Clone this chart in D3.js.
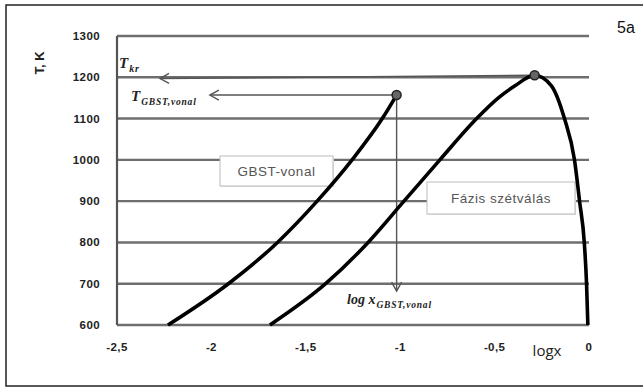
<!DOCTYPE html>
<html>
<head>
<meta charset="utf-8">
<script src="https://cdn.jsdelivr.net/npm/d3@7"></script>
<style>
  body { margin: 0; background: #fff; }
  svg { display: block; }
</style>
</head>
<body>
<svg id="chart" width="643" height="388"></svg>
<script>
// GBST-vonal curve (log x, T)
const gbstLogx = [-2.23, -1.91, -1.65, -1.44, -1.255, -1.095, -1.019];
const gbstT = [600, 700, 800, 900, 1000, 1100, 1157];

// Fázis szétválás curve (log x, T)
const phaseLogx = [-1.69, -1.395, -1.17, -0.98, -0.79, -0.595, -0.48, -0.39, -0.288, -0.2, -0.13, -0.077, -0.05, -0.025, -0.013, -0.006];
const phaseT = [600, 700, 800, 900, 1000, 1100, 1150, 1180, 1205, 1180, 1100, 1000, 900, 800, 700, 600];

const yTicks = [600, 700, 800, 900, 1000, 1100, 1200, 1300];
const xTicks = [-2.5, -2, -1.5, -1, -0.5, 0];
const xTickLabels = ['-2,5', '-2', '-1,5', '-1', '-0,5', '0'];

const svg = d3.select('#chart');

const x = d3.scaleLinear().domain([-2.5, 0]).range([117, 589]);
const y = d3.scaleLinear().domain([600, 1300]).range([325, 36]);

// outer frame
svg.append('rect')
    .attr('x', 6).attr('y', 5)
    .attr('width', 700).attr('height', 381)
    .attr('fill', 'none')
    .attr('stroke', '#222')
    .attr('stroke-width', 1.5);

svg.append('text')
    .attr('x', 617).attr('y', 33)
    .attr('font-family', 'Liberation Sans, Arial, sans-serif')
    .attr('font-size', 16)
    .attr('fill', '#111')
    .text('5a');

// marker for annotation arrows
svg.append('defs').append('marker')
    .attr('id', 'arrow')
    .attr('viewBox', '-1 -6 12 12')
    .attr('refX', 9).attr('refY', 0)
    .attr('markerWidth', 12).attr('markerHeight', 12)
    .attr('markerUnits', 'userSpaceOnUse')
    .attr('orient', 'auto')
    .append('path')
    .attr('d', 'M0,-5L9,0L0,5')
    .attr('fill', 'none')
    .attr('stroke', '#555')
    .attr('stroke-width', 1.4);

// horizontal gridlines
svg.append('g')
    .selectAll('line')
    .data(yTicks)
    .join('line')
    .attr('x1', x(-2.5)).attr('x2', x(0))
    .attr('y1', (d) => y(d)).attr('y2', (d) => y(d))
    .attr('stroke', '#6e6e6e')
    .attr('stroke-width', 2.4);

// left axis line
svg.append('line')
    .attr('x1', x(-2.5)).attr('x2', x(-2.5))
    .attr('y1', y(1300)).attr('y2', y(600))
    .attr('stroke', '#555')
    .attr('stroke-width', 2.2);

// y tick labels
svg.append('g')
    .selectAll('text')
    .data(yTicks)
    .join('text')
    .attr('x', 100)
    .attr('y', (d) => y(d) + 4)
    .attr('text-anchor', 'end')
    .attr('font-family', 'Liberation Sans, Arial, sans-serif')
    .attr('font-size', 11.5)
    .attr('font-weight', 'bold')
    .attr('letter-spacing', 0.4)
    .attr('fill', '#222')
    .text((d) => d);

// x tick labels
svg.append('g')
    .selectAll('text')
    .data(xTicks)
    .join('text')
    .attr('x', (d) => x(d))
    .attr('y', 351)
    .attr('text-anchor', 'middle')
    .attr('font-family', 'Liberation Sans, Arial, sans-serif')
    .attr('font-size', 11.5)
    .attr('font-weight', 'bold')
    .attr('letter-spacing', 0.4)
    .attr('fill', '#222')
    .text((d, i) => xTickLabels[i]);

// axis titles
svg.append('text')
    .attr('transform', 'translate(44, 63) rotate(-90)')
    .attr('text-anchor', 'middle')
    .attr('font-family', 'Liberation Sans, Arial, sans-serif')
    .attr('font-size', 13)
    .attr('font-weight', 'bold')
    .attr('fill', '#222')
    .text('T, K');

svg.append('text')
    .attr('x', 547).attr('y', 356)
    .attr('text-anchor', 'middle')
    .attr('font-family', 'Open Sans, Liberation Sans, sans-serif')
    .attr('font-size', 15)
    .attr('fill', '#222')
    .text('logx');

// label boxes
const boxes = [
    {x0: 220, y0: 156, w: 113, h: 30, label: 'GBST-vonal'},
    {x0: 427, y0: 182, w: 148, h: 32, label: 'Fázis szétválás'}
];
const boxG = svg.append('g')
    .selectAll('g')
    .data(boxes)
    .join('g');
boxG.append('rect')
    .attr('x', (d) => d.x0 + 1).attr('y', (d) => d.y0 + 1)
    .attr('width', (d) => d.w).attr('height', (d) => d.h)
    .attr('fill', '#e4e4e4');
boxG.append('rect')
    .attr('x', (d) => d.x0).attr('y', (d) => d.y0)
    .attr('width', (d) => d.w).attr('height', (d) => d.h)
    .attr('fill', '#fff')
    .attr('stroke', '#bbb')
    .attr('stroke-width', 1);
boxG.append('text')
    .attr('x', (d) => d.x0 + d.w / 2)
    .attr('y', (d) => d.y0 + d.h / 2 + 5)
    .attr('text-anchor', 'middle')
    .attr('font-family', 'Liberation Sans, Arial, sans-serif')
    .attr('font-size', 13.5)
    .attr('letter-spacing', 0.5)
    .attr('fill', '#555')
    .text((d) => d.label);

// annotation arrows
const peakIdx = phaseT.indexOf(d3.max(phaseT));
const tkr = [phaseLogx[peakIdx], phaseT[peakIdx]];
const gbstEnd = [gbstLogx[gbstLogx.length - 1], gbstT[gbstT.length - 1]];

const arrows = [
    {from: tkr, to: [-2.272, tkr[1] - 8]},
    {from: gbstEnd, to: [-2.008, gbstEnd[1]]},
    {from: gbstEnd, to: [gbstEnd[0], 682]}
];
svg.append('g')
    .selectAll('line')
    .data(arrows)
    .join('line')
    .attr('x1', (d) => x(d.from[0])).attr('y1', (d) => y(d.from[1]))
    .attr('x2', (d) => x(d.to[0])).attr('y2', (d) => y(d.to[1]))
    .attr('stroke', '#555')
    .attr('stroke-width', 1.4)
    .attr('marker-end', 'url(#arrow)');

// curves
const line = d3.line()
    .x((d) => x(d[0]))
    .y((d) => y(d[1]))
    .curve(d3.curveMonotoneX);

svg.append('path')
    .attr('d', line(gbstLogx.map((v, i) => [v, gbstT[i]])))
    .attr('fill', 'none')
    .attr('stroke', '#000')
    .attr('stroke-width', 3.6);

svg.append('path')
    .attr('d', line(phaseLogx.map((v, i) => [v, phaseT[i]])))
    .attr('fill', 'none')
    .attr('stroke', '#000')
    .attr('stroke-width', 3.6);

svg.append('g')
    .selectAll('circle')
    .data([tkr, gbstEnd])
    .join('circle')
    .attr('cx', (d) => x(d[0])).attr('cy', (d) => y(d[1]))
    .attr('r', 4.5)
    .attr('fill', '#666')
    .attr('stroke', '#222')
    .attr('stroke-width', 1.5);

// italic annotation labels with subscripts
function subLabel(px, py, main, sub, size, subSize) {
    const t = svg.append('text')
        .attr('x', px).attr('y', py)
        .attr('font-family', 'Liberation Serif, Times New Roman, serif')
        .attr('font-style', 'italic')
        .attr('font-weight', 'bold')
        .attr('font-size', size)
        .attr('fill', '#222');
    t.append('tspan').text(main);
    t.append('tspan')
        .attr('dy', 4)
        .attr('dx', 1)
        .attr('font-size', subSize)
        .attr('letter-spacing', 0.8)
        .text(sub);
}
subLabel(119, 68, 'T', 'kr', 15, 10);
subLabel(131, 101, 'T', 'GBST,vonal', 15, 9.5);
subLabel(347, 304, 'log x', 'GBST,vonal', 14, 9.5);
</script>
</body>
</html>
